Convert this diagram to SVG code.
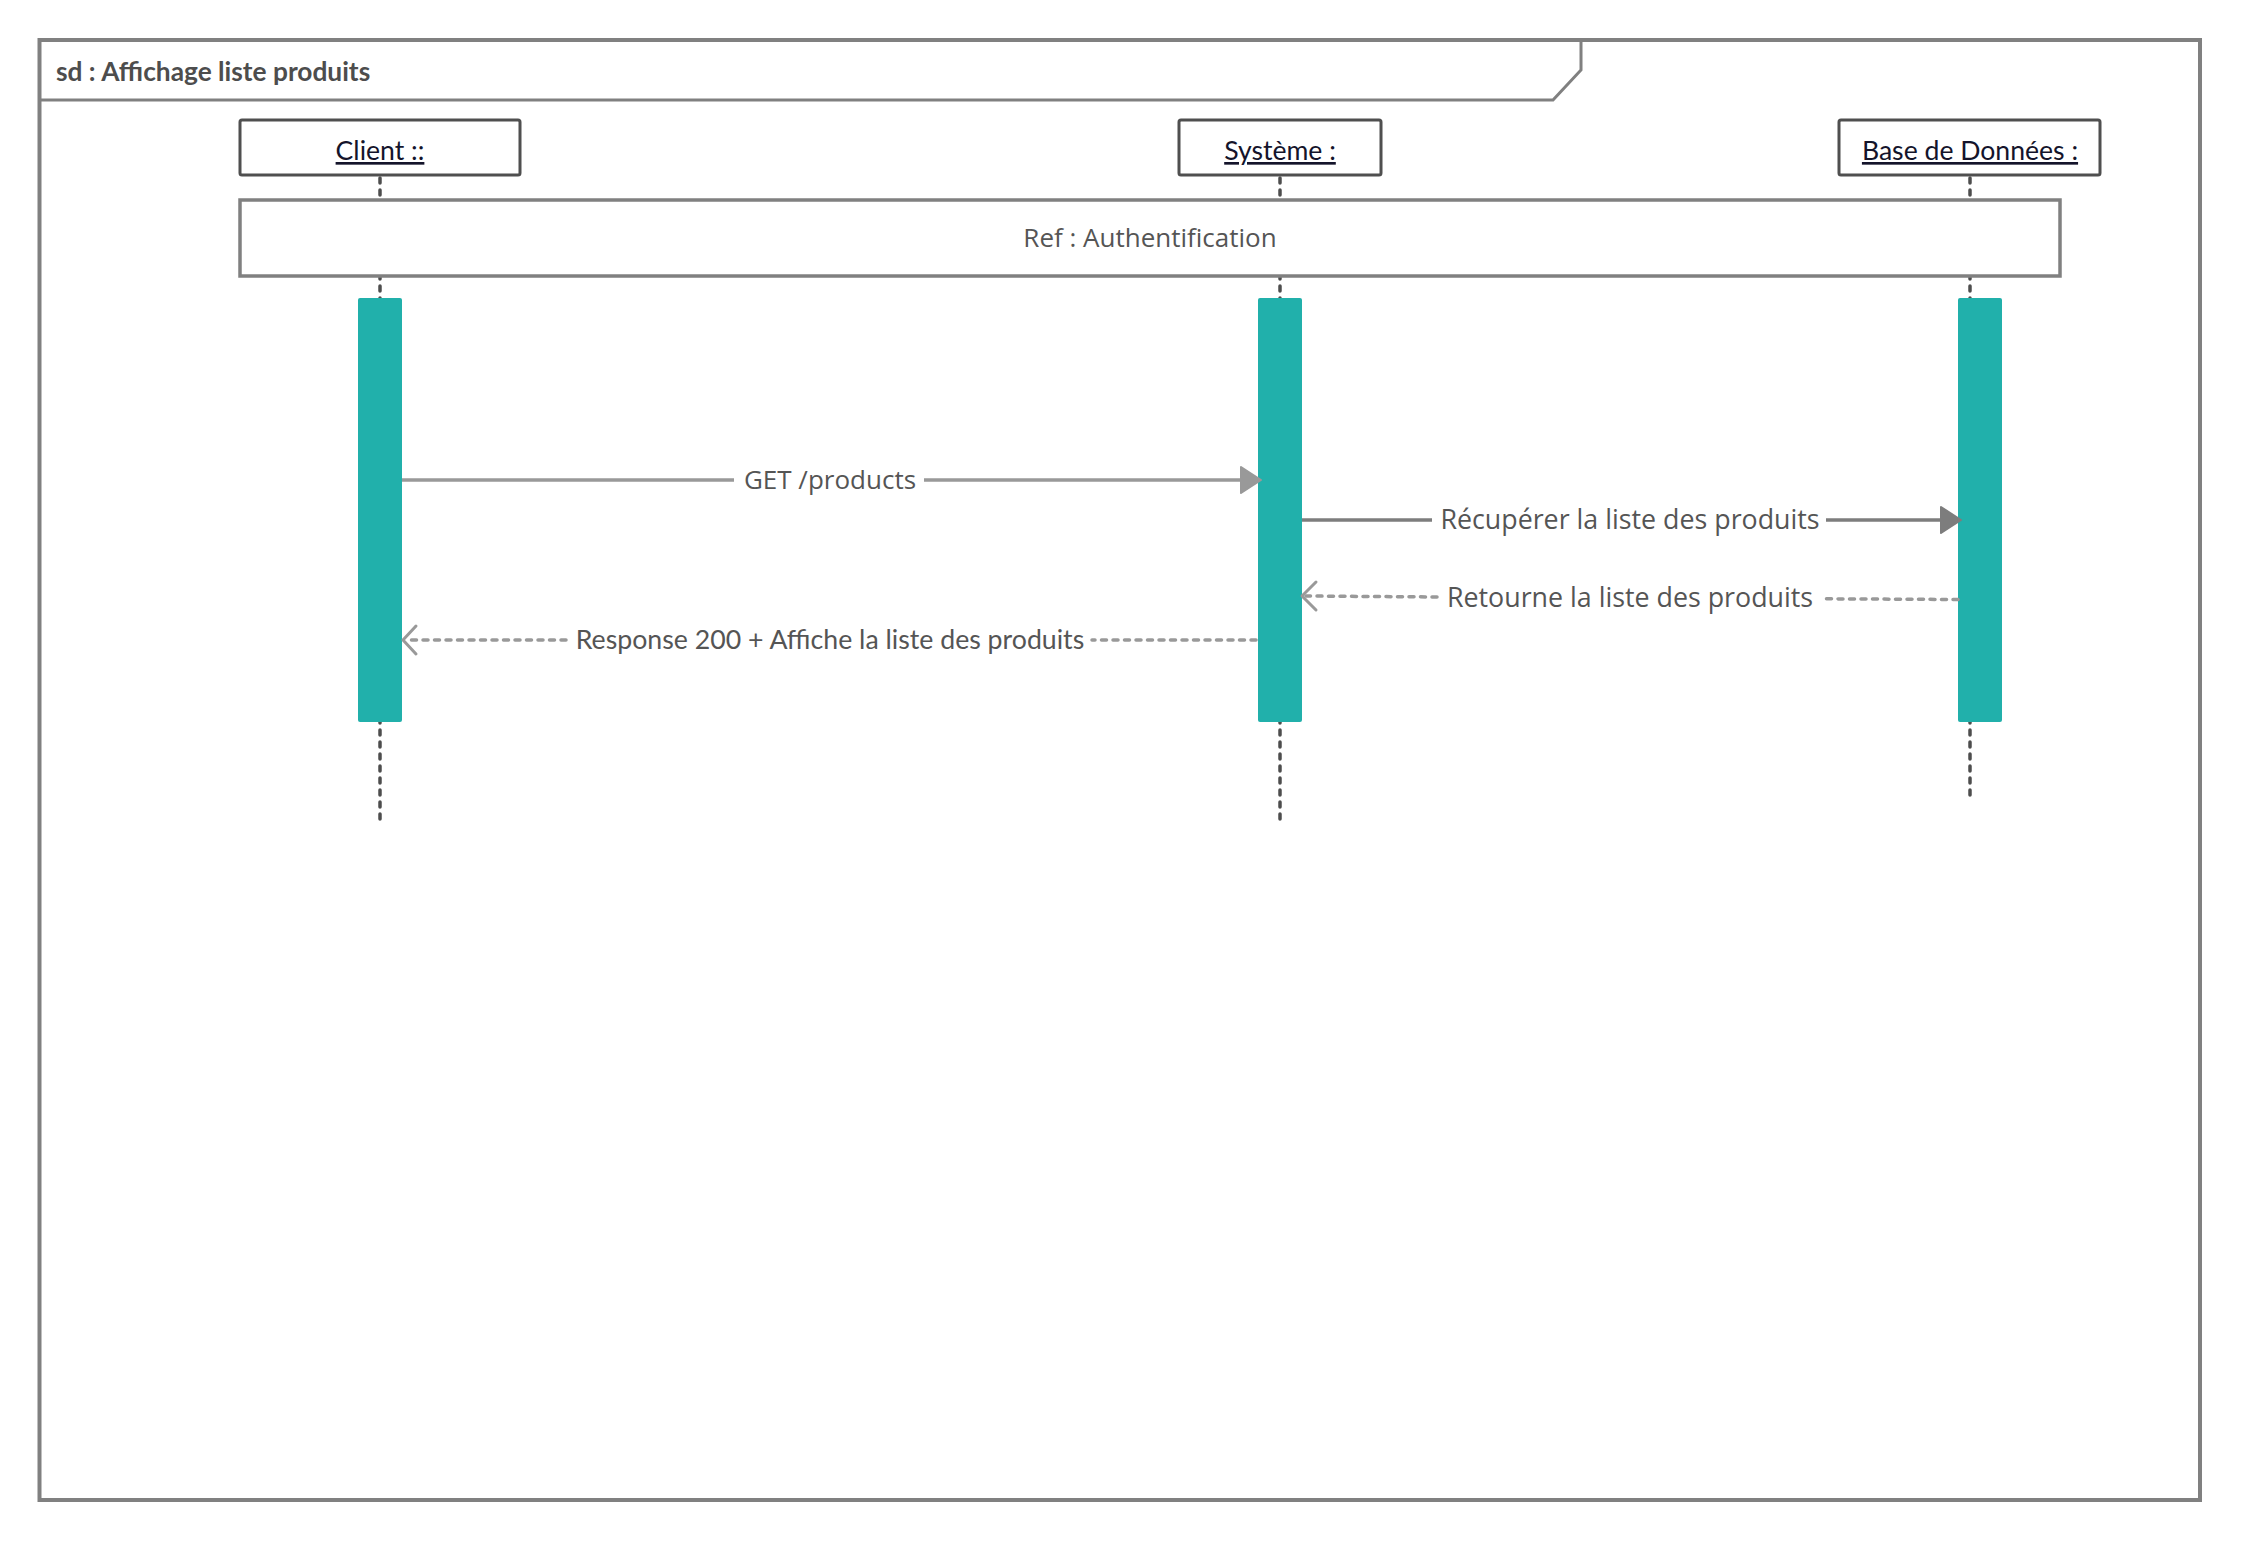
<svg xmlns="http://www.w3.org/2000/svg" width="2241" height="1541" viewBox="0 0 2241 1541">
  <style>
    .frame { fill: none; stroke: #808080; stroke-width: 4; }
    .tab { fill: none; stroke: #808080; stroke-width: 3; stroke-linejoin: miter; }
    .title { font-family: Lato, "Open Sans", sans-serif; font-weight: bold; font-size: 26.3px; fill: #4d4d4d; }
    .head { fill: #ffffff; stroke: #4f4f4f; stroke-width: 3; }
    .headtext { font-family: Lato, "Open Sans", sans-serif; font-size: 26.6px; fill: #14142b; text-decoration: underline; text-anchor: middle; }
    .lifeline { stroke: #4d4d4d; stroke-width: 3.5; stroke-dasharray: 5 7; stroke-linecap: round; fill: none; }
    .ref { fill: #ffffff; stroke: #808080; stroke-width: 3.5; }
    .bar { fill: #21b0ab; }
    .label { font-family: "Open Sans", "Liberation Sans", sans-serif; font-size: 26px; fill: #555555; text-anchor: middle; }
    .label-lg { font-family: "Open Sans", "Liberation Sans", sans-serif; font-size: 26.8px; fill: #555555; text-anchor: middle; }
    .label-lato { font-family: Lato, "Open Sans", sans-serif; font-size: 26.7px; fill: #555555; text-anchor: middle; }
    .call { stroke: #999999; stroke-width: 3.5; fill: none; }
    .call2 { stroke: #7d7d7d; stroke-width: 3.5; fill: none; }
    .reply { stroke: #999999; stroke-width: 3.5; fill: none; stroke-dasharray: 5 6.5; stroke-linecap: round; }
    .open { stroke: #999999; stroke-width: 3; fill: none; stroke-linecap: round; stroke-linejoin: round; }
  </style>

  <rect x="0" y="0" width="2241" height="1541" fill="#ffffff"/>

  <!-- sequence diagram frame with its name tab -->
  <g id="frame">
    <rect class="frame" x="39.5" y="40" width="2160.5" height="1460"/>
    <path class="tab" d="M39.5 100 H1553 L1581 70 V40"/>
    <text class="title" x="56" y="81">sd : Affichage liste produits</text>
  </g>

  <!-- lifelines -->
  <g id="lifelines">
    <line class="lifeline" x1="380" y1="178" x2="380" y2="819"/>
    <line class="lifeline" x1="1280" y1="178" x2="1280" y2="819"/>
    <line class="lifeline" x1="1970" y1="178" x2="1970" y2="795"/>
  </g>

  <!-- participants -->
  <g id="client">
    <rect class="head" x="240" y="120" width="280" height="55" rx="2"/>
    <text class="headtext" x="380" y="160">Client ::</text>
  </g>
  <g id="systeme">
    <rect class="head" x="1179" y="120" width="202" height="55" rx="2"/>
    <text class="headtext" x="1280" y="160">Système :</text>
  </g>
  <g id="base-de-donnees">
    <rect class="head" x="1839" y="120" width="261" height="55" rx="2"/>
    <text class="headtext" x="1970" y="160">Base de Données :</text>
  </g>

  <!-- interaction use -->
  <g id="ref-authentification">
    <rect class="ref" x="240" y="200" width="1820" height="76"/>
    <text class="label" x="1150" y="247">Ref : Authentification</text>
  </g>

  <!-- activation bars -->
  <g id="activation-client">
    <rect class="bar" x="358" y="298" width="44" height="424" rx="2"/>
  </g>
  <g id="activation-systeme">
    <rect class="bar" x="1258" y="298" width="44" height="424" rx="2"/>
  </g>
  <g id="activation-base">
    <rect class="bar" x="1958" y="298" width="44" height="424" rx="2"/>
  </g>

  <!-- messages -->
  <g id="connectors">
    <!-- GET /products -->
    <line class="call" x1="402" y1="480" x2="734" y2="480"/>
    <line class="call" x1="924" y1="480" x2="1244" y2="480"/>
    <path d="M1241 467 L1261 480 L1241 493 Z" fill="#999999" stroke="#999999" stroke-width="2" stroke-linejoin="round"/>
    <text class="label" x="830" y="489">GET /products</text>

    <!-- Récupérer la liste des produits -->
    <line class="call2" x1="1302" y1="520" x2="1432" y2="520"/>
    <line class="call2" x1="1826" y1="520" x2="1944" y2="520"/>
    <path d="M1941 507 L1961 520 L1941 533 Z" fill="#7d7d7d" stroke="#7d7d7d" stroke-width="2" stroke-linejoin="round"/>
    <text class="label-lg" x="1630" y="529">Récupérer la liste des produits</text>

    <!-- Retourne la liste des produits -->
    <line class="reply" x1="1958" y1="599.5" x2="1822" y2="598.8"/>
    <line class="reply" x1="1437" y1="597" x2="1306" y2="596"/>
    <path class="open" d="M1316 582 L1302 596 L1316 610"/>
    <text class="label-lg" x="1630" y="607">Retourne la liste des produits</text>

    <!-- Response 200 + Affiche la liste des produits -->
    <line class="reply" x1="1256" y1="640" x2="1092" y2="640"/>
    <line class="reply" x1="566" y1="640" x2="406" y2="640"/>
    <path class="open" d="M416 626 L403 640 L416 654"/>
    <text class="label-lato" x="830" y="649">Response 200 + Affiche la liste des produits</text>
  </g>
</svg>
